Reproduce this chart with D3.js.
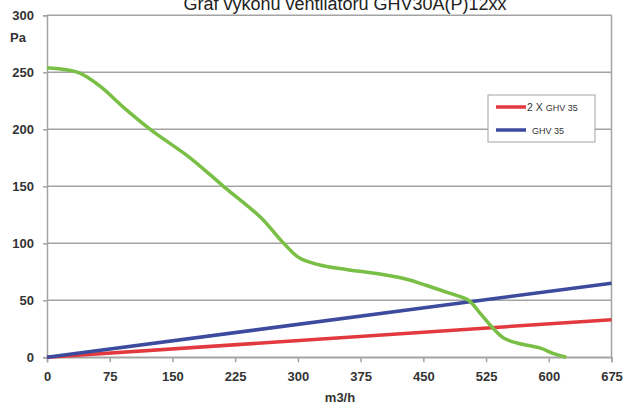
<!DOCTYPE html>
<html>
<head>
<meta charset="utf-8">
<script src="https://cdn.jsdelivr.net/npm/d3@7"></script>
<style>
  body { margin: 0; background: #fff; }
  svg { display: block; font-family: "Liberation Sans", Arial, sans-serif; }
</style>
</head>
<body>
<div id="chart"></div>
<script>
// výkonová křivka ventilátoru
const flowFan = [0, 20, 40, 63, 95, 125, 171, 211, 255, 283, 302, 326, 358, 398, 430, 454, 482, 504, 518, 534, 546, 562, 590, 605, 621];
const paFan   = [254, 252.5, 249, 238, 217, 199, 175, 150, 123, 100, 87, 81, 77, 73, 68.5, 63, 56, 50, 38.5, 25, 17, 12.5, 8, 3.5, 0];

// odporové charakteristiky
const flowLine = [0, 675];
const pa2xGHV35 = [0, 33];
const paGHV35 = [0, 65];

const xTicks = [0, 75, 150, 225, 300, 375, 450, 525, 600, 675];
const yTicks = [0, 50, 100, 150, 200, 250, 300];

const seriesNames = ["2 X GHV 35", "GHV 35"];

const width = 624, height = 408;
const margin = { top: 15.3, right: 12.5, bottom: 50.7, left: 47 };
const w = width - margin.left - margin.right,
      h = height - margin.top - margin.bottom;

const svg = d3.select("#chart").append("svg")
    .attr("width", width)
    .attr("height", height);

const x = d3.scaleLinear().domain([0, 675]).range([0, w]);
const y = d3.scaleLinear().domain([0, 300]).range([h, 0]);

const g = svg.append("g")
    .attr("transform", `translate(${margin.left},${margin.top})`);

// mřížka
g.selectAll(".grid")
    .data(yTicks)
    .enter()
    .append("line")
    .attr("x1", 0)
    .attr("x2", w)
    .attr("y1", d => y(d))
    .attr("y2", d => y(d))
    .attr("stroke", "#a3a3a3")
    .attr("stroke-width", 1.5);

// pravý okraj
g.append("line")
    .attr("x1", w).attr("x2", w)
    .attr("y1", 0).attr("y2", h)
    .attr("stroke", "#a3a3a3")
    .attr("stroke-width", 1.5);

// osy
const yAxis = g.append("g")
    .call(d3.axisLeft(y).tickValues(yTicks).tickSize(4).tickPadding(9));
const xAxis = g.append("g")
    .attr("transform", `translate(0,${h})`)
    .call(d3.axisBottom(x).tickValues(xTicks).tickSize(5).tickPadding(9));

[xAxis, yAxis].forEach(a => {
    a.select(".domain").attr("stroke", "#a3a3a3").attr("stroke-width", 1.5);
    a.selectAll(".tick line").attr("stroke", "#a3a3a3").attr("stroke-width", 1.5);
    a.selectAll("text")
        .attr("fill", "#333")
        .style("font-size", "13px")
        .style("font-weight", "bold")
        .style("font-family", "'Liberation Sans', Arial, sans-serif");
});

const line = d3.line()
    .x(d => x(d[0]))
    .y(d => y(d[1]));

const curve = d3.line()
    .x(d => x(d[0]))
    .y(d => y(d[1]))
    .curve(d3.curveCatmullRom.alpha(0.5));

g.append("path")
    .datum(flowLine.map((f, i) => [f, pa2xGHV35[i]]))
    .attr("d", line)
    .attr("fill", "none")
    .attr("stroke", "#e2393f")
    .attr("stroke-width", 3.5);

g.append("path")
    .datum(flowLine.map((f, i) => [f, paGHV35[i]]))
    .attr("d", line)
    .attr("fill", "none")
    .attr("stroke", "#3c4b9e")
    .attr("stroke-width", 3.5);

g.append("path")
    .datum(flowFan.map((f, i) => [f, paFan[i]]))
    .attr("d", curve)
    .attr("fill", "none")
    .attr("stroke", "#79bf45")
    .attr("stroke-width", 3.5)
    .attr("stroke-linejoin", "round");

// titulek a popisky os
svg.append("text")
    .attr("x", 345)
    .attr("y", 10)
    .attr("text-anchor", "middle")
    .attr("fill", "#222")
    .style("font-size", "18px")
    .text("Graf výkonu ventilátoru GHV30A(P)12xx");

svg.append("text")
    .attr("x", 10)
    .attr("y", 42)
    .attr("fill", "#333")
    .style("font-size", "13px")
    .style("font-weight", "bold")
    .text("Pa");

svg.append("text")
    .attr("x", 340)
    .attr("y", 402)
    .attr("text-anchor", "middle")
    .attr("fill", "#333")
    .style("font-size", "13px")
    .style("font-weight", "bold")
    .text("m3/h");

// legenda
const legend = svg.append("g").attr("transform", "translate(488,95)");
legend.append("rect")
    .attr("width", 107)
    .attr("height", 47)
    .attr("fill", "#fff")
    .attr("stroke", "#a3a3a3")
    .attr("stroke-width", 1);

const legendColors = ["#e2393f", "#3c4b9e"];
seriesNames.forEach((name, i) => {
    const ly = 12 + i * 23;
    legend.append("line")
        .attr("x1", 8).attr("x2", 38)
        .attr("y1", ly).attr("y2", ly)
        .attr("stroke", legendColors[i])
        .attr("stroke-width", 3.5);
    const t = legend.append("text")
        .attr("x", i === 0 ? 39 : 44)
        .attr("y", ly + 3.5)
        .attr("fill", "#333");
    if (i === 0) {
        t.append("tspan").style("font-size", "10.5px").text("2 X ");
        t.append("tspan").style("font-size", "9px").text("GHV 35");
    } else {
        t.style("font-size", "9px").text(name);
    }
});
</script>
</body>
</html>
